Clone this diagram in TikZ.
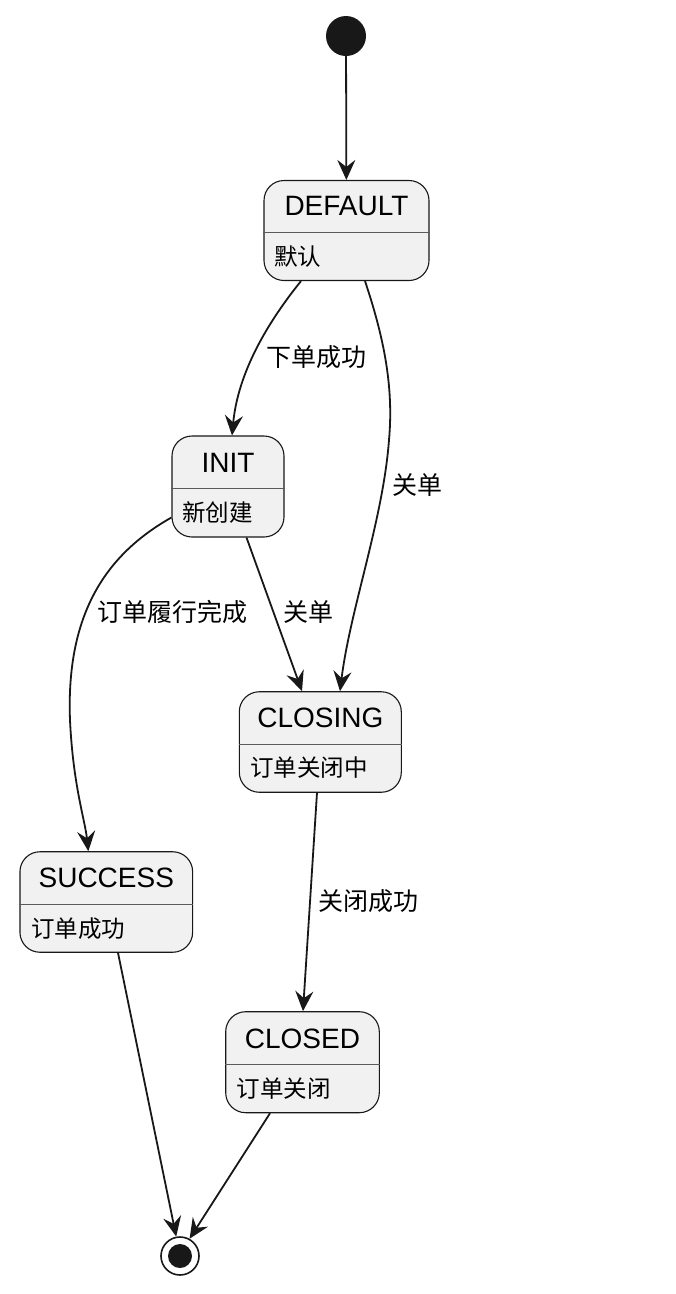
\documentclass[tikz,border=0pt]{standalone}
\usepackage{fontspec}
\setmainfont{Liberation Sans}
\newfontfamily\cjk{Noto Sans CJK SC}
\usetikzlibrary{arrows.meta,calc}
\definecolor{statefill}{HTML}{F1F1F1}
\definecolor{ink}{HTML}{181818}
\definecolor{rule}{HTML}{5A5A5A}
\begin{document}
\begin{tikzpicture}[x=1pt,y=-1pt,
  statebox/.style={draw=ink,fill=statefill,line width=1.1pt,rounded corners=20pt,inner sep=0pt},
  divider/.style={draw=rule,line width=0.9pt},
  titletext/.style={inner sep=0pt,font=\fontsize{28}{32}\selectfont},
  bodytext/.style={inner sep=0pt,anchor=west,font=\cjk\fontsize{23.5}{27}\selectfont},
  edgelabel/.style={inner sep=0pt,font=\cjk\fontsize{25}{29}\selectfont},
  trans/.style={draw=ink,line width=1.8pt,-{Stealth[length=20pt,width=18pt,inset=7pt]}}]
\useasboundingbox (0,0) rectangle (676,1294);
\fill[white] (0,0) rectangle (676,1294);

% start and end
\node[circle,fill=ink,minimum size=40pt,inner sep=0pt] (start) at (346,36) {};
\node[circle,draw=ink,line width=1.6pt,fill=white,minimum size=38pt,inner sep=0pt] (finish) at (180,1256) {};
\node[circle,fill=ink,minimum size=24pt,inner sep=0pt] (finishdot) at (180,1256) {};

% DEFAULT
\node[statebox,minimum width=165pt,minimum height=100pt] (default) at (346.5,230.5) {};
\draw[divider] (default.west |- 0,232) -- (default.east |- 0,232);
\node[titletext] (defaultT) at (346.5,206) {DEFAULT};
\node[bodytext] (defaultB) at (274,257) {默认};

% INIT
\node[statebox,minimum width=112pt,minimum height=101pt] (init) at (228,486.5) {};
\draw[divider] (init.west |- 0,488) -- (init.east |- 0,488);
\node[titletext] (initT) at (228,462.5) {INIT};
\node[bodytext] (initB) at (182,512.5) {新创建};

% CLOSING
\node[statebox,minimum width=162pt,minimum height=100.5pt] (closing) at (320.3,742) {};
\draw[divider] (closing.west |- 0,744) -- (closing.east |- 0,744);
\node[titletext] (closingT) at (320.3,718) {CLOSING};
\node[bodytext] (closingB) at (250,768) {订单关闭中};

% SUCCESS
\node[statebox,minimum width=172.7pt,minimum height=100.5pt] (success) at (106.3,902) {};
\draw[divider] (success.west |- 0,904.3) -- (success.east |- 0,904.3);
\node[titletext] (successT) at (106.3,877.5) {SUCCESS};
\node[bodytext] (successB) at (31,929) {订单成功};

% CLOSED
\node[statebox,minimum width=153.6pt,minimum height=101pt] (closed) at (302.5,1062.2) {};
\draw[divider] (closed.west |- 0,1064.3) -- (closed.east |- 0,1064.3);
\node[titletext] (closedT) at (302.5,1038.5) {CLOSED};
\node[bodytext] (closedB) at (236.7,1089) {订单关闭};

% transitions
\draw[trans] (start) -- (default);

\draw[trans] ([xshift=-45.5pt]default.south) .. controls (268,322) and (238,372) .. ([xshift=4pt]init.north);
\node[edgelabel] (l1) at (316,357) {下单成功};

\draw[trans] ([xshift=18.5pt]default.south) .. controls (383,335) and (394,385) .. (389,440)
  .. controls (383,520) and (350,610) .. ([xshift=19.7pt]closing.north);
\node[edgelabel] (l2) at (417,485) {关单};

\draw[trans] ([xshift=18.5pt]init.south) -- ([xshift=-18.3pt]closing.north);
\node[edgelabel] (l3) at (308,612) {关单};

\draw[trans] ([yshift=-31pt]init.east -| init.west) .. controls (105,555) and (66,615) .. (70,720)
  .. controls (73,785) and (85,820) .. ([xshift=-18pt]success.north);
\node[edgelabel] (l4) at (172,612) {订单履行完成};

\draw[trans] ([xshift=-3.3pt]closing.south) -- ([xshift=0.5pt]closed.north);
\node[edgelabel] (l5) at (368,901) {关闭成功};

\draw[trans] ([xshift=11.7pt]success.south) -- (finish.101);
\draw[trans] ([xshift=-32.5pt]closed.south) -- (finish.61);
\end{tikzpicture}
\end{document}
